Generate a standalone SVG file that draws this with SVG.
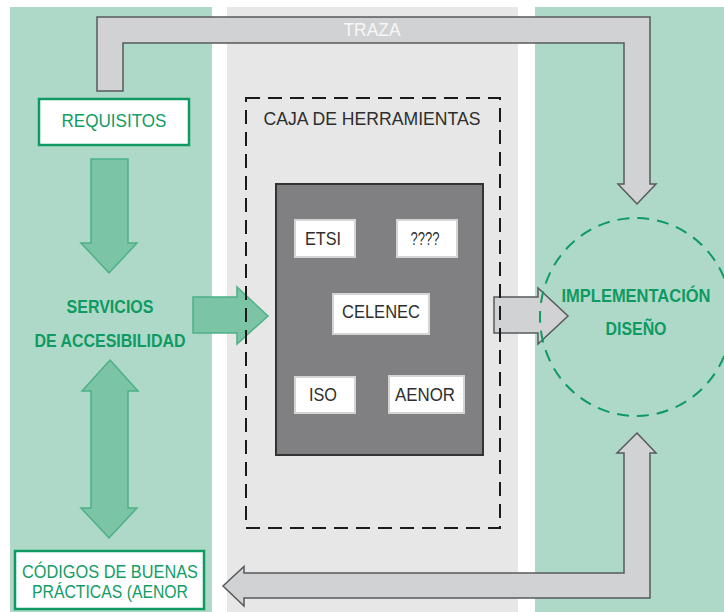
<svg xmlns="http://www.w3.org/2000/svg" width="724" height="612" viewBox="0 0 724 612">
<style>
.lbl{font-family:"Liberation Sans",Arial,sans-serif;}
.gt{fill:#129c66;font-size:19px;}
.gb{fill:#0e9a62;font-size:19px;font-weight:bold;}
.dk{fill:#2e2e2e;font-size:19px;}
.wbox{fill:#ffffff;stroke:#d4d4d4;stroke-width:2;}
.gbox{fill:#ffffff;stroke:#0e9a62;stroke-width:2.5;}
.garr{fill:#7bc4a5;stroke:#4cb088;stroke-width:1.5;stroke-linejoin:miter;}
.parr{fill:#d1d2d4;stroke:#58595b;stroke-width:1.5;stroke-linejoin:miter;}
</style>
<rect width="724" height="612" fill="#ffffff"/>
<g id="panels">
<rect x="10" y="7" width="202" height="605" fill="#aed9c8"/>
<rect x="227" y="7" width="291" height="605" fill="#e6e7e6"/>
<rect x="535" y="7" width="189" height="605" fill="#aed9c8"/>
</g>
<g id="connectors">
<path class="parr" d="M97,91 L97,17 L650,17 L650,184 L656,184 L637,204 L618,184 L624,184 L624,43 L123,43 L123,91 Z"/>
<text class="lbl" x="372" y="36" text-anchor="middle" font-size="18" fill="#f7f7f7" textLength="57" lengthAdjust="spacingAndGlyphs">TRAZA</text>
<path class="garr" d="M91,159 L128,159 L128,243 L137,243 L109,273 L81,243 L91,243 Z"/>
<path class="garr" d="M193,297 L237,297 L237,287 L268,316 L237,344 L237,333 L193,333 Z"/>
<path class="garr" d="M110,360 L138,391 L128,391 L128,508 L137,508 L109,538 L81,508 L91,508 L91,391 L82,391 Z"/>
<path class="parr" d="M494,297 L538,297 L538,288 L568,316 L538,344 L538,333 L494,333 Z"/>
<path class="parr" d="M637,433 L656,453 L650,453 L650,598 L244,598 L244,606 L223,586 L244,566.5 L244,573 L624,573 L624,453 L617,453 Z"/>
</g>
<g id="requisitos">
<rect class="gbox" x="39" y="99" width="150" height="46"/>
<text class="lbl gt" x="114" y="127" text-anchor="middle" textLength="105" lengthAdjust="spacingAndGlyphs">REQUISITOS</text>
</g>
<g id="servicios">
<text class="lbl gb" x="110" y="313" text-anchor="middle" textLength="87" lengthAdjust="spacingAndGlyphs">SERVICIOS</text>
<text class="lbl gb" x="110" y="347" text-anchor="middle" textLength="151" lengthAdjust="spacingAndGlyphs">DE ACCESIBILIDAD</text>
</g>
<g id="codigos">
<rect class="gbox" x="15" y="551" width="189" height="58"/>
<text class="lbl gt" x="110" y="578" text-anchor="middle" textLength="176" lengthAdjust="spacingAndGlyphs">CÓDIGOS DE BUENAS</text>
<text class="lbl gt" x="110" y="598" text-anchor="middle" textLength="156" lengthAdjust="spacingAndGlyphs">PRÁCTICAS (AENOR</text>
</g>
<g id="caja">
<rect x="246" y="98" width="254" height="430" fill="none" stroke="#1a1a1a" stroke-width="2" stroke-dasharray="14,8"/>
<text class="lbl dk" x="372" y="125" text-anchor="middle" textLength="217" lengthAdjust="spacingAndGlyphs">CAJA DE HERRAMIENTAS</text>
<rect x="276" y="184" width="207" height="271" fill="#808083" stroke="#333333" stroke-width="2"/>
</g>
<g id="etsi">
<rect class="wbox" x="295" y="220" width="60" height="37"/>
<text class="lbl dk" x="323" y="245" text-anchor="middle" textLength="36" lengthAdjust="spacingAndGlyphs">ETSI</text>
</g>
<g id="q">
<rect class="wbox" x="397" y="220" width="60" height="37"/>
<text class="lbl dk" x="425" y="245" text-anchor="middle" font-size="17" textLength="29" lengthAdjust="spacingAndGlyphs">????</text>
</g>
<g id="celenec">
<rect class="wbox" x="333" y="294" width="96" height="40"/>
<text class="lbl dk" x="381" y="318" text-anchor="middle" textLength="78" lengthAdjust="spacingAndGlyphs">CELENEC</text>
</g>
<g id="iso">
<rect class="wbox" x="295" y="377" width="60" height="36"/>
<text class="lbl dk" x="323" y="401" text-anchor="middle" textLength="28" lengthAdjust="spacingAndGlyphs">ISO</text>
</g>
<g id="aenor">
<rect class="wbox" x="389" y="376" width="75" height="37"/>
<text class="lbl dk" x="425" y="401" text-anchor="middle" textLength="60" lengthAdjust="spacingAndGlyphs">AENOR</text>
</g>
<g id="implementacion">
<ellipse cx="636" cy="317" rx="96" ry="99" fill="none" stroke="#0e9a62" stroke-width="2" stroke-dasharray="12,8"/>
<text class="lbl gb" x="636" y="302" text-anchor="middle" textLength="149" lengthAdjust="spacingAndGlyphs">IMPLEMENTACIÓN</text>
<text class="lbl gb" x="636" y="335" text-anchor="middle" textLength="61" lengthAdjust="spacingAndGlyphs">DISEÑO</text>
</g>
</svg>
